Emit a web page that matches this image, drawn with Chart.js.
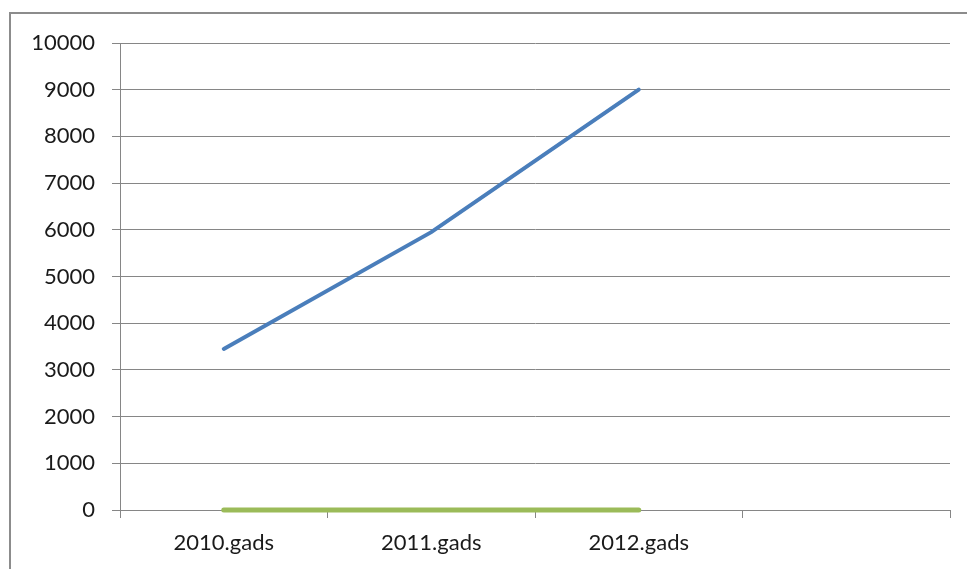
<!DOCTYPE html>
<html>
<head>
<meta charset="utf-8">
<script src="https://cdn.jsdelivr.net/npm/chart.js@4/dist/chart.umd.min.js"></script>
<style>
  html, body { margin: 0; padding: 0; background: #fff; }
  #wrap { position: relative; width: 967px; height: 569px; }
  #frame { position: absolute; left: 9px; top: 12px; width: 980px; height: 600px;
           border-left: 2px solid #8c8c8c; border-top: 2px solid #8c8c8c; }
  canvas { position: absolute; left: 0; top: 0; }
</style>
</head>
<body>
<div id="wrap">
  <div id="frame"></div>
  <canvas id="chart" width="967" height="569"></canvas>
</div>
<script>
// categories (the fourth slot is empty in the original)
var years = ["2010.gads", "2011.gads", "2012.gads", ""];
var seriesBlue = [3450, 5950, 9000, null];
var seriesGreen = [0, 0, 0, null];
var yTicksMin = 0;
var yTicksMax = 10000;
var yTicksStep = 1000;

var gridColor = "#868686";

function makeChart(canvas) {
    let ctx = canvas.getContext("2d");
    return new Chart(ctx, {
        type: "line",
        data: {
            labels: years,
            datasets: [
                {
                    label: "Blue",
                    data: seriesBlue,
                    borderColor: "#4a7ebb",
                    borderWidth: 4,
                    borderCapStyle: "round",
                    pointRadius: 0,
                    tension: 0,
                    clip: false
                },
                {
                    label: "Green",
                    data: seriesGreen,
                    borderColor: "#9bbb59",
                    borderWidth: 5,
                    borderCapStyle: "round",
                    pointRadius: 0,
                    tension: 0,
                    clip: false
                }
            ]
        },
        options: {
            responsive: false,
            animation: false,
            events: [],
            layout: { padding: { top: 43, right: 17, left: 0, bottom: 0 } },
            plugins: { legend: { display: false }, tooltip: { enabled: false } },
            scales: {
                x: {
                    offset: true,
                    grid: {
                        offset: true,
                        drawOnChartArea: false,
                        drawTicks: true,
                        tickLength: 8,
                        color: gridColor
                    },
                    border: { color: gridColor, width: 1 },
                    ticks: {
                        color: "#1a1a1a",
                        padding: 12,
                        maxRotation: 0,
                        font: { family: "Lato", size: 22 }
                    },
                    afterFit: function (scale) { scale.height = 59; }
                },
                y: {
                    min: yTicksMin,
                    max: yTicksMax,
                    grid: { color: gridColor, tickLength: 8, lineWidth: 1 },
                    border: { color: gridColor, width: 1 },
                    ticks: {
                        stepSize: yTicksStep,
                        color: "#1a1a1a",
                        padding: 17,
                        font: { family: "Lato", size: 22 },
                        callback: function (value) { return String(value); }
                    },
                    afterFit: function (scale) { scale.width = 120; }
                }
            }
        }
    });
}

makeChart(document.getElementById("chart"));
</script>
</body>
</html>
